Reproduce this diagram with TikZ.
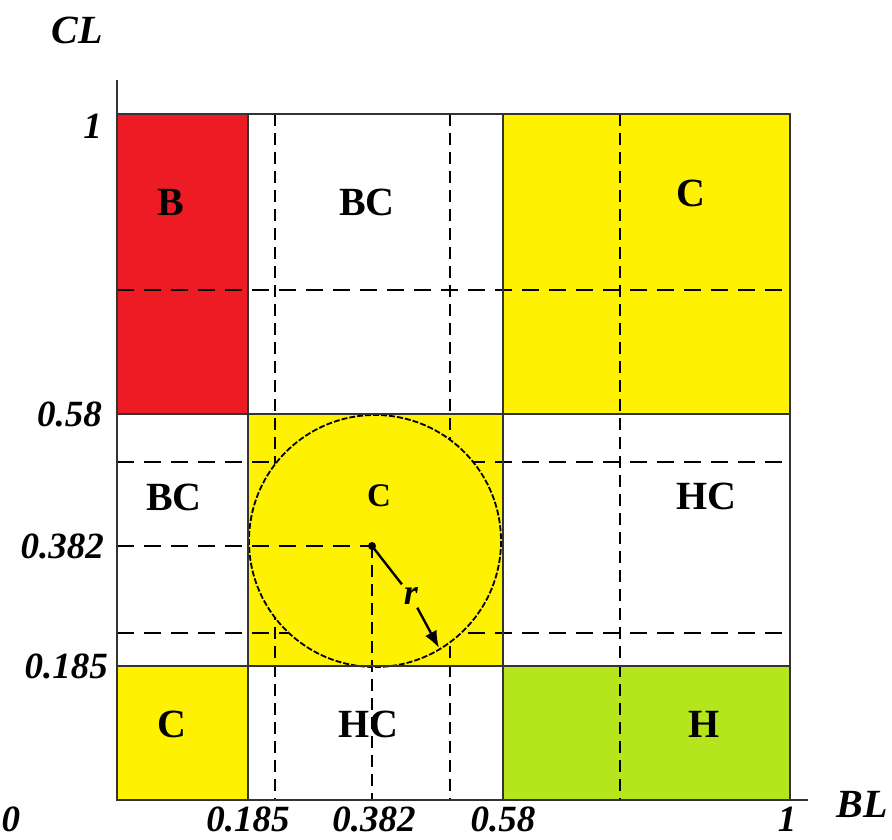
\documentclass[tikz,border=0pt]{standalone}
\usepackage{fontspec}
\setmainfont{Liberation Serif}
\usetikzlibrary{arrows.meta}
\definecolor{cred}{HTML}{ED1C24}
\definecolor{cyel}{HTML}{FFF200}
\definecolor{cgrn}{HTML}{B5E61D}
\definecolor{cline}{HTML}{333333}
\begin{document}
\begin{tikzpicture}[x=1pt,y=-1pt,
  region/.style={font=\fontsize{40}{40}\selectfont\bfseries, inner sep=0pt},
  smallregion/.style={font=\fontsize{33}{33}\selectfont\bfseries, inner sep=0pt},
  axlab/.style={font=\fontsize{40}{40}\selectfont\bfseries\itshape, inner sep=0pt},
  numlab/.style={font=\fontsize{37}{37}\selectfont\bfseries\itshape, inner sep=0pt},
  solidline/.style={line width=2.3pt, draw=cline},
  hdash/.style={line width=2.6pt, dash pattern=on 17pt off 10pt},
  vdash/.style={line width=2.6pt, dash pattern=on 12pt off 7pt},
  circdash/.style={line width=1.8pt, dash pattern=on 6pt off 2pt},
]
\useasboundingbox (0,0) rectangle (892,839);

% named corner coordinates
\coordinate (o) at (117,800);
\coordinate (ytop) at (117,80);
\coordinate (xend) at (808,800);
\coordinate (ctr) at (372,546);
\coordinate (cc) at (375,541);
\coordinate (tip) at (439,648);

% coloured fields
\fill[cred] (117,114) rectangle (248,414);
\fill[cyel] (503,114) rectangle (790,414);
\fill[cyel] (248,414) rectangle (503,666);
\fill[cyel] (117,666) rectangle (248,800);
\fill[cgrn] (503,666) rectangle (790,800);

% dashed grid
\foreach \xx in {275,450,620} \draw[vdash] (\xx,114) -- (\xx,800);
\foreach \yy in {290,462,633} \draw[hdash] (117,\yy) -- (790,\yy);

% circle
\fill[cyel] (cc) circle (126);
\draw[circdash] (cc) circle (126);

% centre lines
\draw[hdash] (117,546) -- (ctr);
\draw[vdash] (ctr) -- (372,800);

% solid grid
\draw[solidline] (117,114) -- (790,114) -- (790,800);
\draw[solidline] (248,114) -- (248,800);
\draw[solidline] (503,114) -- (503,800);
\draw[solidline] (117,414) -- (790,414);
\draw[solidline] (117,666) -- (790,666);
\draw[solidline] (ytop) -- (o) -- (xend);

% radius
\fill (ctr) circle (4);
\node[font=\fontsize{36}{36}\selectfont\bfseries\itshape, inner sep=3pt] (rl) at (411,596) {r};
\draw[line width=2.4pt] (ctr) -- (rl);
\draw[line width=2.4pt, -{Latex[length=17pt,width=13pt]}] (rl) -- (tip);

% region labels
\node[region] (lB) at (171,202) {B};
\node[region] (lBC1) at (367,202) {BC};
\node[region] (lC1) at (691,193) {C};
\node[region] (lBC2) at (174,497) {BC};
\node[smallregion] (lC2) at (379,496) {C};
\node[region] (lHC1) at (706,496) {HC};
\node[region] (lC3) at (172,724) {C};
\node[region] (lHC2) at (368,724) {HC};
\node[region] (lH) at (704,724) {H};

% axis labels
\node[axlab] (lCL) at (77,30) {CL};
\node[axlab] (lBL) at (862,804) {BL};

% y numbers
\node[numlab, anchor=east] (y1) at (102,126) {1};
\node[numlab, anchor=east] (y58) at (102,414) {0.58};
\node[numlab, anchor=east] (y382) at (104,546) {0.382};
\node[numlab, anchor=east] (y185) at (108,666) {0.185};

% x numbers
\node[numlab] (x0) at (11,819) {0};
\node[numlab] (x185) at (248,819) {0.185};
\node[numlab] (x382) at (374,819) {0.382};
\node[numlab] (x58) at (503,819) {0.58};
\node[numlab] (x1) at (787,819) {1};
\end{tikzpicture}
\end{document}
